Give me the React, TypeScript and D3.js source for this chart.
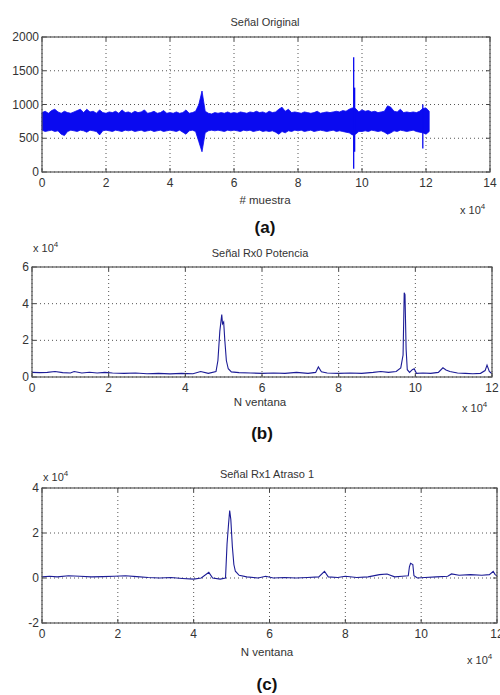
import { useEffect, useRef } from 'react';
import * as d3 from 'd3';

// (a) raw signal, drawn as its envelope, one value every 1000 samples (x in units of 1e4)
const aUpper = [
  880, 900, 870, 910, 930, 890, 870, 900, 880, 870,
  890, 910, 930, 880, 930, 890, 900, 870, 920, 880,
  870, 890, 880, 900, 870, 920, 880, 890, 870, 900,
  880, 890, 920, 870, 880, 900, 870, 880, 910, 870,
  880, 870, 890, 870, 880, 920, 870, 880, 900, 1000,
  1200, 900, 870, 860, 880, 870, 880, 870, 890, 870,
  880, 870, 890, 880, 870, 890, 880, 900, 880, 890,
  870, 900, 880, 890, 930, 960, 900, 930, 880, 890,
  880, 870, 890, 880, 870, 880, 900, 870, 880, 890,
  880, 890, 900, 890, 910, 900, 930, 950, 940, 890,
  920, 900, 910, 890, 900, 880, 890, 900, 980, 960,
  900, 890, 930, 880, 890, 880, 890, 880, 900, 940,
  950, 900,
];
const aLower = [
  620, 600, 610, 620, 600, 610, 560, 540, 600, 620,
  610, 600, 620, 610, 590, 620, 610, 600, 550, 610,
  620, 610, 600, 620, 610, 600, 620, 610, 620, 600,
  610, 620, 600, 610, 620, 600, 610, 620, 600, 610,
  620, 610, 600, 620, 590, 560, 610, 620, 600, 450,
  300, 580, 610, 620, 610, 620, 610, 600, 620, 610,
  620, 610, 600, 620, 610, 620, 600, 610, 620, 600,
  610, 600, 610, 590, 560, 600, 580, 610, 600, 620,
  610, 620, 600, 610, 620, 600, 610, 620, 610, 600,
  610, 620, 600, 610, 600, 590, 580, 550, 560, 600,
  600, 610, 600, 620, 610, 600, 610, 590, 560, 580,
  610, 600, 620, 610, 600, 610, 620, 600, 590, 580,
  560, 600,
];
// narrow spikes: [x, low, high]
const aNeedles = [
  [9.74, 50, 1700],
  [9.77, 300, 1250],
  [11.9, 350, 1000],
];

// (b) Rx0 power (x and y in units of 1e4)
const bX = [0, 0.2, 0.4, 0.6, 0.8, 1.0, 1.1, 1.3, 1.5, 1.7, 1.9, 2.1, 2.4, 2.7, 3.0, 3.3, 3.6, 3.9,
  4.2, 4.4, 4.6, 4.8, 4.85, 4.9, 4.95, 4.97, 5.0, 5.03, 5.07, 5.12, 5.2, 5.4, 5.7, 6.0, 6.3, 6.6,
  6.9, 7.2, 7.4, 7.47, 7.55, 7.7, 8.0, 8.3, 8.6, 8.9, 9.1, 9.3, 9.5, 9.62, 9.68, 9.71, 9.73, 9.76,
  9.79, 9.85, 9.92, 9.97, 10.03, 10.2, 10.4, 10.6, 10.72, 10.8, 10.9, 11.1, 11.3, 11.5, 11.7,
  11.82, 11.87, 11.93, 12.0];
const bY = [0.25, 0.24, 0.25, 0.3, 0.24, 0.22, 0.3, 0.22, 0.26, 0.22, 0.25, 0.22, 0.2, 0.22, 0.18, 0.2, 0.17, 0.2,
  0.18, 0.3, 0.2, 0.3, 0.9, 2.5, 3.4, 2.9, 3.0, 2.0, 0.9, 0.45, 0.28, 0.24, 0.22, 0.2, 0.22, 0.2,
  0.25, 0.2, 0.25, 0.55, 0.28, 0.22, 0.2, 0.22, 0.2, 0.25, 0.3, 0.25, 0.3, 0.5, 1.2, 4.6, 4.5, 1.5,
  0.4, 0.25, 0.4, 0.45, 0.2, 0.22, 0.2, 0.25, 0.5, 0.38, 0.3, 0.22, 0.2, 0.18, 0.2,
  0.35, 0.65, 0.3, 0.18];

// (c) Rx1 delay 1
const cX = [0, 0.2, 0.4, 0.7, 1.0, 1.3, 1.6, 1.9, 2.2, 2.5, 2.8, 3.1, 3.4, 3.7, 4.0, 4.2, 4.4, 4.5,
  4.7, 4.84, 4.88, 4.92, 4.95, 4.98, 5.02, 5.06, 5.1, 5.2, 5.4, 5.7, 5.9, 6.1, 6.4, 6.7, 7.0, 7.3,
  7.45, 7.55, 7.8, 8.0, 8.3, 8.6, 8.9, 9.1, 9.3, 9.5, 9.66, 9.69, 9.72, 9.78, 9.81, 9.9, 10.1,
  10.4, 10.7, 10.8, 11.0, 11.3, 11.6, 11.8, 11.9, 11.95, 12.0];
const cY = [0.05, 0.08, 0.05, 0.1, 0.08, 0.05, 0.06, 0.08, 0.1, 0.06, 0.02, 0.0, 0.02, -0.02, -0.05, 0.0, 0.25, 0.0,
  -0.05, 0.0, 1.5, 2.4, 3.0, 2.6, 1.4, 0.6, 0.3, 0.12, 0.05, 0.0, 0.08, 0.0, 0.02, 0.0, 0.02, 0.05,
  0.3, 0.05, 0.02, 0.08, 0.02, 0.05, 0.15, 0.18, 0.05, 0.08, 0.1, 0.5, 0.65, 0.6, 0.1, 0.0, 0.02,
  0.05, 0.08, 0.18, 0.12, 0.15, 0.12, 0.15, 0.3, 0.15, 0.1];

const xTicks14 = [0, 2, 4, 6, 8, 10, 12, 14];
const xTicks12 = [0, 2, 4, 6, 8, 10, 12];
const aYTicks = [0, 500, 1000, 1500, 2000];
const bYTicks = [0, 2, 4, 6];
const cYTicks = [-2, 0, 2, 4];

const FONT = "'Liberation Sans', Arial, sans-serif";
const TXT = '#333';

function drawFrame(g, p) {
  const x = d3.scaleLinear().domain(p.xDomain).range([p.left, p.right]);
  const y = d3.scaleLinear().domain(p.yDomain).range([p.bottom, p.top]);

  // dotted grid
  g.selectAll('.gx').data(p.xTicks).enter().append('line')
    .attr('x1', d => x(d)).attr('x2', d => x(d))
    .attr('y1', p.top).attr('y2', p.bottom)
    .attr('stroke', '#555').attr('stroke-width', 1).attr('stroke-dasharray', '1 3');
  g.selectAll('.gy').data(p.yTicks).enter().append('line')
    .attr('x1', p.left).attr('x2', p.right)
    .attr('y1', d => y(d)).attr('y2', d => y(d))
    .attr('stroke', '#555').attr('stroke-width', 1).attr('stroke-dasharray', '1 3');

  // tick labels
  g.selectAll('.lx').data(p.xTicks).enter().append('text')
    .attr('x', d => x(d)).attr('y', p.bottom + 15)
    .attr('text-anchor', 'middle').attr('font-size', 12).attr('font-family', FONT).attr('fill', TXT)
    .text(d => d);
  g.selectAll('.ly').data(p.yTicks).enter().append('text')
    .attr('x', p.left - 3).attr('y', d => y(d) + 4)
    .attr('text-anchor', 'end').attr('font-size', 12).attr('font-family', FONT).attr('fill', TXT)
    .text(d => d);

  return { x, y };
}

function drawBox(g, p, x, y) {
  const tk = 4;
  p.xTicks.forEach(d => {
    g.append('line').attr('x1', x(d)).attr('x2', x(d)).attr('y1', p.bottom).attr('y2', p.bottom - tk).attr('stroke', '#444');
    g.append('line').attr('x1', x(d)).attr('x2', x(d)).attr('y1', p.top).attr('y2', p.top + tk).attr('stroke', '#444');
  });
  p.yTicks.forEach(d => {
    g.append('line').attr('x1', p.left).attr('x2', p.left + tk).attr('y1', y(d)).attr('y2', y(d)).attr('stroke', '#444');
    g.append('line').attr('x1', p.right).attr('x2', p.right - tk).attr('y1', y(d)).attr('y2', y(d)).attr('stroke', '#444');
  });
  g.append('rect')
    .attr('x', p.left).attr('y', p.top)
    .attr('width', p.right - p.left).attr('height', p.bottom - p.top)
    .attr('fill', 'none').attr('stroke', '#555').attr('stroke-width', 1.2);
}

function label(g, x, y, txt, size, anchor = 'middle', weight = 'normal') {
  g.append('text').attr('x', x).attr('y', y)
    .attr('text-anchor', anchor).attr('font-size', size).attr('font-weight', weight)
    .attr('font-family', FONT).attr('fill', weight === 'bold' ? '#111' : TXT)
    .text(txt);
}

function exponent(g, x, y) {
  const t = g.append('text').attr('x', x).attr('y', y)
    .attr('font-size', 11).attr('font-family', FONT).attr('fill', TXT);
  t.append('tspan').text('x 10');
  t.append('tspan').attr('dy', -5).attr('font-size', 8).text('4');
}

export default function App() {
  const svgRef = useRef(null);

  useEffect(() => {
    const svg = d3.select(svgRef.current);
    svg.selectAll('*').remove();

    // ---- (a)
    const pa = { left: 42, right: 490, top: 37, bottom: 172, xDomain: [0, 14], yDomain: [0, 2000], xTicks: xTicks14, yTicks: aYTicks };
    const ga = svg.append('g');
    const sa = drawFrame(ga, pa);
    const envelope = aUpper.map((u, i) => ({ x: i / 10, hi: u, lo: aLower[i] }));
    ga.append('path').datum(envelope)
      .attr('fill', '#0a0af0').attr('stroke', '#0a0af0').attr('stroke-width', 0.8)
      .attr('d', d3.area().x(d => sa.x(d.x)).y0(d => sa.y(d.lo)).y1(d => sa.y(d.hi)));
    ga.selectAll('.nd').data(aNeedles).enter().append('line')
      .attr('x1', d => sa.x(d[0])).attr('x2', d => sa.x(d[0]))
      .attr('y1', d => sa.y(d[1])).attr('y2', d => sa.y(d[2]))
      .attr('stroke', '#0a0af0').attr('stroke-width', 1.3);
    drawBox(ga, pa, sa.x, sa.y);
    label(ga, 265, 26, 'Señal Original', 11);
    label(ga, 265, 204, '# muestra', 11.5);
    exponent(ga, 460, 214);
    label(ga, 265, 233, '(a)', 17, 'middle', 'bold');

    // ---- (b)
    const pb = { left: 32, right: 492, top: 267, bottom: 377, xDomain: [0, 12], yDomain: [0, 6], xTicks: xTicks12, yTicks: bYTicks };
    const gb = svg.append('g');
    const sb = drawFrame(gb, pb);
    gb.append('path').datum(bX.map((v, i) => [v, bY[i]]))
      .attr('fill', 'none').attr('stroke', '#1c1c96').attr('stroke-width', 1.1)
      .attr('d', d3.line().x(d => sb.x(d[0])).y(d => sb.y(d[1])));
    drawBox(gb, pb, sb.x, sb.y);
    label(gb, 260, 257, 'Señal Rx0 Potencia', 11);
    exponent(gb, 33, 252);
    label(gb, 260, 406, 'N ventana', 11.5);
    exponent(gb, 462, 412);
    label(gb, 262, 439, '(b)', 17, 'middle', 'bold');

    // ---- (c)
    const pc = { left: 42, right: 497, top: 488, bottom: 623, xDomain: [0, 12], yDomain: [-2, 4], xTicks: xTicks12, yTicks: cYTicks };
    const gc = svg.append('g');
    const sc = drawFrame(gc, pc);
    gc.append('path').datum(cX.map((v, i) => [v, cY[i]]))
      .attr('fill', 'none').attr('stroke', '#1c1c96').attr('stroke-width', 1.1)
      .attr('d', d3.line().x(d => sc.x(d[0])).y(d => sc.y(d[1])));
    drawBox(gc, pc, sc.x, sc.y);
    label(gc, 267, 478, 'Señal Rx1 Atraso 1', 11);
    exponent(gc, 43, 481);
    label(gc, 267, 656, 'N ventana', 11.5);
    exponent(gc, 467, 664);
    label(gc, 267, 690, '(c)', 17, 'middle', 'bold');
  }, []);

  return (
    <svg ref={svgRef} width={500} height={695}
      style={{ position: 'absolute', left: 0, top: 0, background: '#fff' }} />
  );
}
